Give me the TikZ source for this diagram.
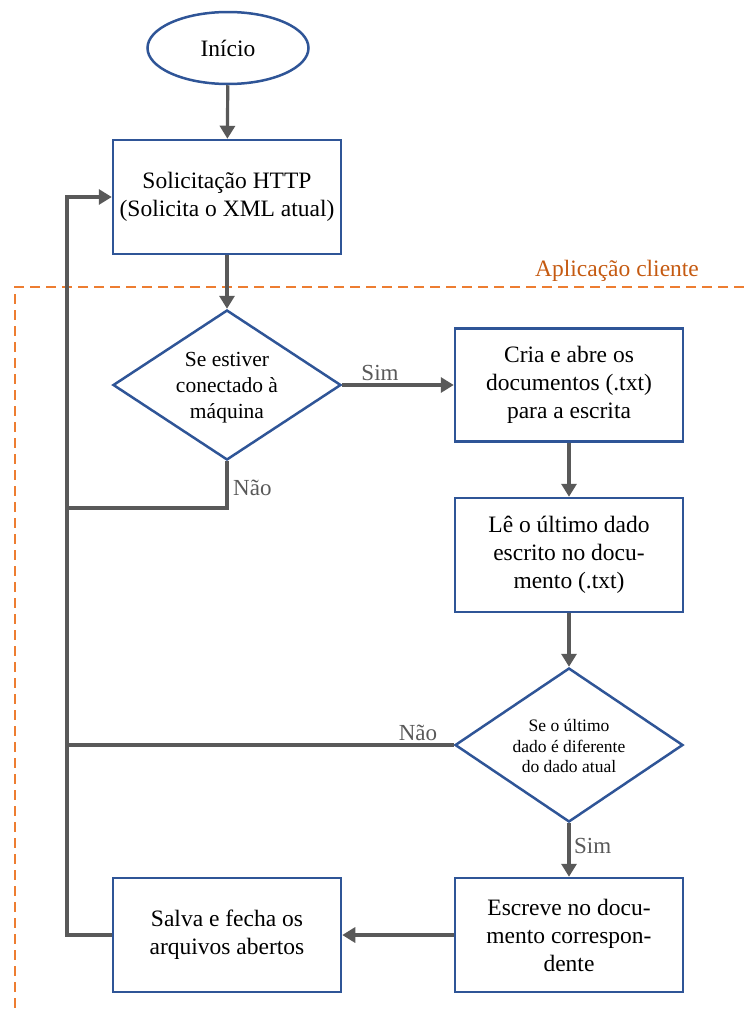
\documentclass[tikz,border=0pt]{standalone}
\usepackage{fontspec}
\setmainfont{Liberation Serif}
\usetikzlibrary{shapes.geometric,arrows.meta}
\definecolor{boxblue}{RGB}{47,85,151}
\definecolor{arrgray}{RGB}{89,89,89}
\definecolor{dashorange}{RGB}{237,125,49}
\definecolor{labelorange}{RGB}{197,90,17}
\tikzset{
  stepbox/.style={draw=boxblue,line width=2.5pt,fill=white,minimum width=228pt,minimum height=114pt,inner sep=0pt,align=center,font=\fontsize{23.5}{28}\selectfont},
  startnode/.style={draw=boxblue,line width=2.5pt,ellipse,minimum width=161pt,minimum height=72pt,inner sep=0pt,font=\fontsize{23.5}{28}\selectfont},
  decision/.style={draw=boxblue,line width=2.5pt,diamond,aspect=1.52,minimum width=228pt,minimum height=150pt,inner sep=0pt},
  dtext/.style={align=center,inner sep=0pt},
  conn/.style={draw=arrgray,line width=3.2pt},
  arr/.style={conn,-{Triangle[length=13pt,width=15pt]}},
  lbl/.style={text=arrgray,font=\fontsize{23}{27}\selectfont,inner sep=2pt}
}
\begin{document}
\begin{tikzpicture}[x=1pt,y=-1pt]
\useasboundingbox (0,0) rectangle (744,1012);
% frame
\draw[dashorange,line width=2pt,dash pattern=on 10pt off 6pt] (744,287) -- (15,287) -- (15,1012);
\node[text=labelorange,font=\fontsize{23.5}{27}\selectfont,anchor=base] (app) at (617,276) {Aplicação cliente};
% nodes
\node[startnode] (start) at (228,48) {Início};
\node[stepbox] (b1) at (227,197) {Solicitação HTTP\\(Solicita o XML atual)};
\node[decision] (d1) at (227,385) {};
\node[dtext,font=\fontsize{21.5}{26}\selectfont] (d1t) at (227,388) {Se estiver\\conectado à\\máquina};
\node[stepbox,minimum height=113pt] (b2) at (569,385) {Cria e abre os\\documentos (.txt)\\para a escrita};
\node[stepbox] (b3) at (569,555) {Lê o último dado\\escrito no docu-\\mento (.txt)};
\node[decision,minimum height=154pt] (d2) at (569,745) {};
\node[dtext,font=\fontsize{17.5}{20.5}\selectfont] (d2t) at (569,746) {Se o último\\dado é diferente\\do dado atual};
\node[stepbox] (b4) at (569,935) {Escreve no docu-\\mento correspon-\\dente};
\node[stepbox] (b5) at (227,935) {Salva e fecha os\\arquivos abertos};
\coordinate (j1) at (67,508);
\coordinate (j2) at (67,745);
\coordinate (j3) at (67,935);
% connectors
\draw[arr] (start) -- (b1);
\draw[arr] (b1) -- (d1);
\draw[arr] (d1.east) -- (b2.west);
\node[lbl,anchor=base] (sim1) at (380,380) {Sim};
\draw[arr] (b2) -- (b3);
\draw[arr] (b3) -- (d2);
\draw[arr] (d2) -- (b4);
\node[lbl,anchor=base west] (sim2) at (572,853) {Sim};
\draw[arr] (b4) -- (b5);
\draw[conn] (d1.south) |- (j1);
\node[lbl,anchor=base west] (nao1) at (231,495) {Não};
\draw[conn] (d2.west) -- (j2);
\node[lbl,anchor=base] (nao2) at (418,740) {Não};
\draw[arr] (b5.west) -- (j3) |- (b1.west);
\end{tikzpicture}
\end{document}
